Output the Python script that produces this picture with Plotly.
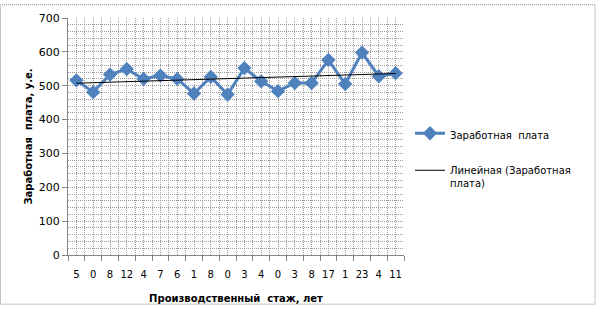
import numpy as np
import plotly.graph_objects as go

# Data
categories = ["5", "0", "8", "12", "4", "7", "6", "1", "8", "0", "3", "4", "0", "3", "8", "17", "1", "23", "4", "11"]
salary = [516, 481, 533, 549, 520, 530, 520, 477, 526, 474, 552, 513, 484, 508, 508, 576, 505, 598, 528, 537]
y_ticks = [0, 100, 200, 300, 400, 500, 600, 700]

series_name = "Заработная  плата"
trend_name = "Линейная (Заработная<br>плата)"
x_title = "Производственный  стаж, лет"
y_title = "Заработная  плата, у.е."

n = len(categories)
xpos = np.arange(n)
# Excel linear trend uses x = 1..n
coef = np.polyfit(np.arange(1, n + 1), salary, 1)
trend = np.polyval(coef, np.arange(1, n + 1))

W, H = 596, 318
L, R, T, B = 68, 404, 14, 255

FONT = "DejaVu Sans"
GRID = "#9c9c9c"
BLUE = "#4F81BD"

fig = go.Figure()
fig.add_trace(go.Scatter(
    x=xpos, y=salary, mode="lines+markers", name=series_name,
    legendgroup="a",
    line=dict(color=BLUE, width=3),
    marker=dict(symbol="diamond", size=11, color=BLUE, line=dict(width=0)),
))
fig.add_trace(go.Scatter(
    x=xpos, y=trend, mode="lines", name=trend_name,
    legendgroup="b",
    line=dict(color="black", width=1),
))

fig.update_layout(
    width=W, height=H,
    margin=dict(l=L, r=W - R, t=T, b=H - B, pad=0),
    paper_bgcolor="white", plot_bgcolor="white",
    font=dict(family=FONT, size=10, color="black"),
    showlegend=True,
    legend=dict(
        x=(410 - L) / (R - L), xanchor="left",
        y=(B - 118) / (B - T), yanchor="top",
        font=dict(family=FONT, size=10, color="black"),
        tracegroupgap=18, valign="top",
        bgcolor="rgba(0,0,0,0)",
    ),
    xaxis=dict(
        range=[-0.5, n - 0.5],
        tickmode="array", tickvals=list(xpos), ticktext=categories,
        ticks="", showgrid=True, gridcolor=GRID, griddash="1px,1px", gridwidth=1,
        showline=True, linecolor="#868686", linewidth=1,
        zeroline=False,
        tickfont=dict(family=FONT, size=10, color="black"),
        ticklabelstandoff=10,
        minor=dict(
            tickmode="array", tickvals=[i - 0.5 for i in range(n + 1)],
            ticks="outside", ticklen=5, tickcolor="#868686",
            showgrid=True, gridcolor=GRID, griddash="1px,1px", gridwidth=1,
        ),
        title=dict(text="<b>" + x_title + "</b>", standoff=15,
                   font=dict(family=FONT, size=10, color="black")),
    ),
    yaxis=dict(
        range=[0, 700],
        tickmode="array", tickvals=y_ticks,
        ticks="outside", ticklen=5, tickcolor="#868686",
        showgrid=True, gridcolor=GRID, griddash="1px,1px", gridwidth=1,
        showline=True, linecolor="#868686", linewidth=1,
        zeroline=False,
        tickfont=dict(family=FONT, size=11, color="black"),
        minor=dict(
            dtick=20, tick0=0, ticks="",
            showgrid=True, gridcolor=GRID, griddash="1px,1px", gridwidth=1,
        ),
        title=dict(text="<b>" + y_title + "</b>", standoff=4,
                   font=dict(family=FONT, size=10, color="black")),
    ),
)

# Outer chart-area border (dotted grey)
fig.add_shape(
    type="rect", xref="paper", yref="paper",
    x0=(0.5 - L) / (R - L), x1=(595 - L) / (R - L),
    y0=(B - 305) / (B - T), y1=(B - 0.5) / (B - T),
    line=dict(color="#8a8a8a", width=1, dash="1px,1px"),
    fillcolor="rgba(0,0,0,0)", layer="below",
)

fig.write_html("out.html")
